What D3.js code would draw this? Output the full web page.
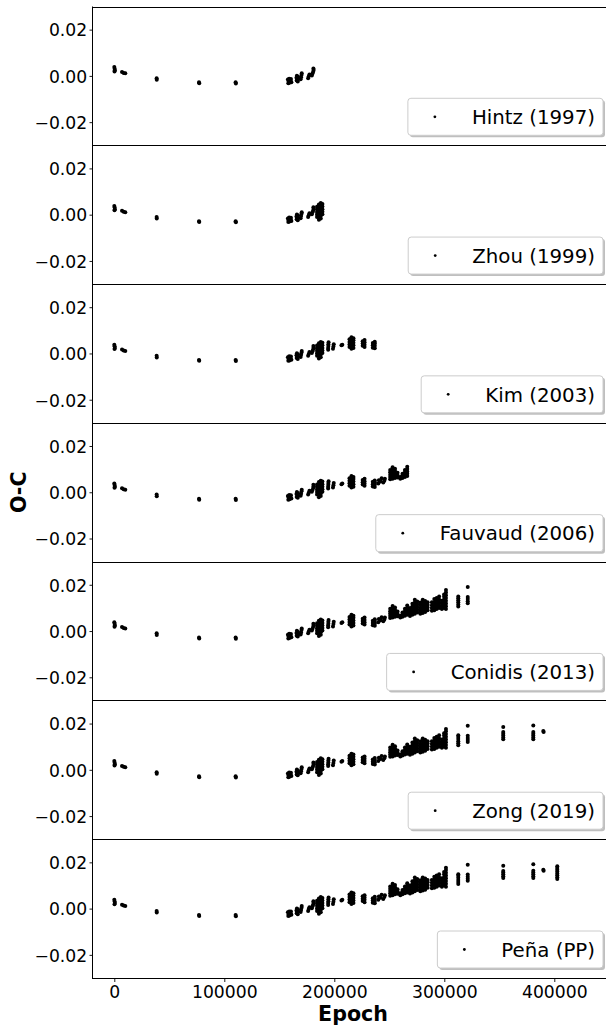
<!DOCTYPE html>
<html>
<head>
<meta charset="utf-8">
<script src="https://cdn.jsdelivr.net/npm/d3@7"></script>
<style>
  html, body { margin: 0; padding: 0; background: #fff; }
  svg { display: block; font-family: "DejaVu Sans", sans-serif; }
</style>
</head>
<body>
<svg id="chart" width="606" height="1026"></svg>
<script>
// O-C timing residuals, one panel per cumulative data release.
// Each entry is [epoch, O-C (days)].
const hintz = [
  [0, 0.0038], [300, 0.0031], [500, 0.0024], [200, 0.0019],
  [7000, 0.0017], [8500, 0.0013], [10000, 0.0011],
  [38500, -0.0010], [38600, -0.0017],
  [77000, -0.0028], [77200, -0.0032],
  [110300, -0.0028], [110500, -0.0033],
  [157800, -0.0016], [158500, -0.0024], [159300, -0.0030], [160200, -0.0020], [161000, -0.0027], [159000, -0.0012],
  [158200, -0.0032], [160600, -0.0013],
  [165800, -0.0020], [166400, -0.0012], [167000, -0.0004], [166000, 0.0001], [166800, -0.0024], [165600, -0.0008],
  [169400, -0.0015], [169800, -0.0006], [170200, 0.0004], [170400, 0.0011],
  [176200, -0.0010], [176800, -0.0002], [177400, 0.0006],
  [179600, 0.0002], [180200, 0.0010], [180800, 0.0018], [181200, 0.0026], [181000, 0.0032]
];
const zhou = [
  [184300, -0.0010], [184300, 0.0001], [184300, 0.0012], [184300, 0.0023], [184300, 0.0034],
  [186000, -0.0022], [186000, -0.0011], [186000, 0.0000], [186000, 0.0011], [186000, 0.0022], [186000, 0.0033], [186000, 0.0044],
  [187700, -0.0016], [187700, -0.0005], [187700, 0.0006], [187700, 0.0017], [187700, 0.0028], [187700, 0.0039], [187700, 0.0050],
  [189200, 0.0002], [189200, 0.0013], [189200, 0.0024], [189200, 0.0035], [189200, 0.0046]
];
const kim = [
  [194400, 0.0016], [194400, 0.0024], [194600, 0.0032], [194600, 0.0040], [194800, 0.0048],
  [198800, 0.0020], [199200, 0.0030], [199500, 0.0040],
  [206500, 0.0035], [207300, 0.0038],
  [213800, 0.0028], [213800, 0.0039], [213800, 0.0050], [213800, 0.0061],
  [215600, 0.0020], [215600, 0.0031], [215600, 0.0042], [215600, 0.0053], [215600, 0.0064], [215600, 0.0070],
  [217400, 0.0024], [217400, 0.0035], [217400, 0.0046], [217400, 0.0057], [217400, 0.0066],
  [225800, 0.0033], [225800, 0.0043], [225800, 0.0053],
  [227500, 0.0028], [227500, 0.0038], [227500, 0.0048], [227500, 0.0058],
  [235000, 0.0025], [235000, 0.0035], [235000, 0.0045],
  [236800, 0.0023], [236800, 0.0033], [236800, 0.0043], [236800, 0.0051]
];
const fauvaud = [
  [240000, 0.0038], [240500, 0.0052], [242000, 0.0047], [243000, 0.0060], [244500, 0.0042], [245500, 0.0050], [246000, 0.0058],
  [250800, 0.0056], [250800, 0.0066], [250800, 0.0076], [250800, 0.0086], [250800, 0.0096],
  [253000, 0.0058], [253000, 0.0068], [253000, 0.0078], [253000, 0.0088], [253000, 0.0098], [253000, 0.0108],
  [255200, 0.0062], [255200, 0.0072], [255200, 0.0082], [255200, 0.0092], [255200, 0.0102],
  [257500, 0.0064], [257500, 0.0074], [257500, 0.0084],
  [260000, 0.0058], [260000, 0.0066],
  [262000, 0.0062], [262000, 0.0072], [262000, 0.0080],
  [264200, 0.0066], [264200, 0.0076], [264200, 0.0086], [264200, 0.0096],
  [266300, 0.0070], [266300, 0.0080], [266300, 0.0090], [266300, 0.0100], [266300, 0.0110]
];
const conidis = [
  [268800, 0.0065], [268800, 0.0077], [268800, 0.0089], [268800, 0.0100],
  [271000, 0.0070], [271000, 0.0082], [271000, 0.0094], [271000, 0.0106], [271000, 0.0118],
  [273200, 0.0075], [273200, 0.0087], [273200, 0.0099], [273200, 0.0111], [273200, 0.0123], [273200, 0.0135],
  [275400, 0.0080], [275400, 0.0092], [275400, 0.0104], [275400, 0.0116], [275400, 0.0128],
  [278200, 0.0075], [278200, 0.0087], [278200, 0.0099], [278200, 0.0111], [278200, 0.0123],
  [280400, 0.0078], [280400, 0.0090], [280400, 0.0102], [280400, 0.0114], [280400, 0.0126], [280400, 0.0135],
  [282600, 0.0082], [282600, 0.0094], [282600, 0.0106], [282600, 0.0118], [282600, 0.0130],
  [284800, 0.0090], [284800, 0.0102], [284800, 0.0114], [284800, 0.0124],
  [288700, 0.0088], [288700, 0.0100], [288700, 0.0112], [288700, 0.0124],
  [290900, 0.0090], [290900, 0.0102], [290900, 0.0114], [290900, 0.0126], [290900, 0.0138],
  [293100, 0.0095], [293100, 0.0107], [293100, 0.0119], [293100, 0.0131], [293100, 0.0143],
  [295300, 0.0100], [295300, 0.0112], [295300, 0.0124], [295300, 0.0136], [295300, 0.0149],
  [297800, 0.0095], [297800, 0.0107], [297800, 0.0119], [297800, 0.0131],
  [299800, 0.0100], [299800, 0.0112], [299800, 0.0124], [299800, 0.0136], [299800, 0.0148], [299800, 0.0158],
  [301500, 0.0095], [301500, 0.0107], [301500, 0.0119], [301500, 0.0131], [301500, 0.0143], [301500, 0.0155], [301500, 0.0167], [301500, 0.0177],
  [312700, 0.0106], [312700, 0.0115], [312700, 0.0124], [312700, 0.0133], [312700, 0.0142], [312700, 0.0149],
  [321300, 0.0120], [321300, 0.0129], [321300, 0.0138], [321300, 0.0147], [321300, 0.0190]
];
const zong = [
  [353600, 0.0132], [353600, 0.0140], [353600, 0.0148], [353600, 0.0156], [353600, 0.0163], [353600, 0.0185],
  [380900, 0.0132], [380900, 0.0140], [380900, 0.0148], [380900, 0.0156], [380900, 0.0164], [380900, 0.0192],
  [390000, 0.0168], [390300, 0.0164]
];
const pena = [
  [402700, 0.0128], [402700, 0.0136], [402700, 0.0144], [402700, 0.0152], [402700, 0.0160],
  [402700, 0.0168], [402700, 0.0176], [402700, 0.0183]
];

const sourceLabels = ["Hintz (1997)", "Zhou (1999)", "Kim (2003)", "Fauvaud (2006)", "Conidis (2013)", "Zong (2019)", "Peña (PP)"];
const sourceData = [hintz, zhou, kim, fauvaud, conidis, zong, pena];

const yTicks = [-0.02, 0.00, 0.02];
const xTicks = [0, 100000, 200000, 300000, 400000];
const yDomain = [-0.03, 0.03];
const xDomain = [-19364, 453364];

// Layout
const plotLeft = 93, plotRight = 613;
const plotTop = 6.5, plotBottom = 978;
const nPanels = sourceLabels.length;
const panelH = (plotBottom - plotTop) / nPanels;

const svg = d3.select("#chart");
const x = d3.scaleLinear().domain(xDomain).range([plotLeft, plotRight]);

const tickFont = 17.2;
const legendFont = 19.8;

for (let i = 0; i < nPanels; i++) {
  const pTop = plotTop + i * panelH;
  const pBot = pTop + panelH;
  const y = d3.scaleLinear().domain(yDomain).range([pBot, pTop]);
  const g = svg.append("g");

  // points: every source released up to and including this panel's
  const pts = sourceData.slice(0, i + 1).flat();
  g.append("g").selectAll("circle").data(pts).join("circle")
    .attr("cx", d => x(d[0]))
    .attr("cy", d => y(d[1]))
    .attr("r", 2.0)
    .attr("fill", "#000");

  // y axis
  const ax = g.append("g").attr("transform", `translate(${plotLeft},0)`)
    .call(d3.axisLeft(y).tickValues(yTicks).tickFormat(d3.format(".2f")).tickSize(3.5).tickPadding(2.3).tickSizeOuter(0));
  ax.select(".domain").remove();
  ax.selectAll(".tick line").attr("stroke", "#000").attr("stroke-width", 0.9);
  ax.selectAll(".tick text")
    .attr("dy", null).attr("y", tickFont * 0.729 / 2)
    .attr("font-family", "DejaVu Sans").attr("font-size", tickFont).attr("fill", "#000");

  // top spine / panel separator
  g.append("line")
    .attr("x1", plotLeft).attr("x2", 606)
    .attr("y1", Math.round(pTop) + 0.5).attr("y2", Math.round(pTop) + 0.5)
    .attr("stroke", "#000").attr("stroke-width", 1);

  // legend (lower right)
  const lg = g.append("g");
  const txt = lg.append("text")
    .attr("font-family", "DejaVu Sans").attr("font-size", legendFont).attr("fill", "#000")
    .text(sourceLabels[i]);
  const tw = txt.node().getComputedTextLength();
  const boxW = 64 + tw + 8;
  const boxH = 37;
  const boxR = plotRight - 10;
  const boxB = pBot - 10;
  const boxL = boxR - boxW;
  const boxT = boxB - boxH;
  lg.insert("rect", "text")
    .attr("x", boxL + 2).attr("y", boxT + 2).attr("width", boxW).attr("height", boxH)
    .attr("rx", 3).attr("fill", "#808080").attr("fill-opacity", 0.5);
  lg.insert("rect", "text")
    .attr("x", boxL).attr("y", boxT).attr("width", boxW).attr("height", boxH)
    .attr("rx", 3).attr("fill", "#fff").attr("stroke", "#cccccc").attr("stroke-width", 1);
  lg.append("circle")
    .attr("cx", boxL + 27).attr("cy", boxT + boxH / 2).attr("r", 1.4).attr("fill", "#000");
  txt.attr("x", boxL + 64).attr("y", boxT + boxH / 2 + legendFont * 0.729 / 2);
}

// left and bottom spines
svg.append("line")
  .attr("x1", plotLeft - 0.5).attr("x2", plotLeft - 0.5).attr("y1", plotTop).attr("y2", plotBottom)
  .attr("stroke", "#000").attr("stroke-width", 1);
svg.append("line")
  .attr("x1", plotLeft - 1).attr("x2", 606).attr("y1", Math.round(plotBottom) + 0.5).attr("y2", Math.round(plotBottom) + 0.5)
  .attr("stroke", "#000").attr("stroke-width", 1);

// x axis at the bottom
const xa = svg.append("g").attr("transform", `translate(0,${Math.round(plotBottom) + 0.5})`)
  .call(d3.axisBottom(x).tickValues(xTicks).tickFormat(d3.format("d")).tickSize(3.5).tickSizeOuter(0));
xa.select(".domain").remove();
xa.selectAll(".tick line").attr("stroke", "#000").attr("stroke-width", 0.9);
xa.selectAll(".tick text")
  .attr("dy", null).attr("y", 19)
  .attr("font-family", "DejaVu Sans").attr("font-size", tickFont).attr("fill", "#000");

// axis titles
svg.append("text")
  .attr("x", (plotLeft + plotRight) / 2).attr("y", 1020.7)
  .attr("text-anchor", "middle")
  .attr("font-family", "DejaVu Sans").attr("font-weight", "bold").attr("font-size", 20.6)
  .text("Epoch");
svg.append("text")
  .attr("transform", `translate(26,${(plotTop + plotBottom) / 2}) rotate(-90)`)
  .attr("text-anchor", "middle")
  .attr("font-family", "DejaVu Sans").attr("font-weight", "bold").attr("font-size", 20.6)
  .text("O-C");
</script>
</body>
</html>
